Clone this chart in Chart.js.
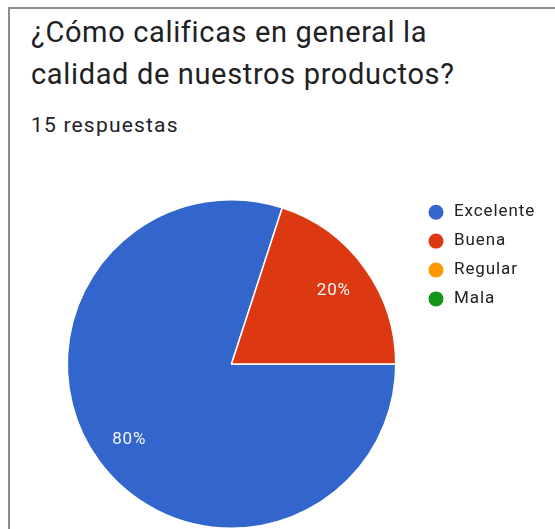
<!DOCTYPE html>
<html>
<head>
<meta charset="utf-8">
<script src="https://cdn.jsdelivr.net/npm/chart.js@4"></script>
<style>
  html, body { margin: 0; padding: 0; background: #fff; }
  body { width: 555px; height: 529px; position: relative; overflow: hidden; font-family: Roboto, "Noto Sans", sans-serif; }
  .frame { position: absolute; left: 8px; top: 7px; width: 600px; height: 600px;
           border-left: 2px solid #8c8c8c; border-top: 2px solid #8c8c8c; box-sizing: border-box; }
  .title { position: absolute; left: 31px; top: 11px; font-size: 29px; line-height: 42px;
           letter-spacing: 0.65px; color: #202124; white-space: nowrap; }
  .sub { position: absolute; left: 31px; top: 113px; font-size: 21px; line-height: 24px;
         letter-spacing: 1.2px; color: #202124; }
  #wrap { position: absolute; left: 0; top: 0; width: 555px; height: 529px; }
</style>
</head>
<body>
<div class="frame"></div>
<div class="title">¿Cómo calificas en general la<br>calidad de nuestros productos?</div>
<div class="sub">15 respuestas</div>
<div id="wrap"><canvas id="c"></canvas></div>
<script>
const categories = ['Excelente', 'Buena', 'Regular', 'Mala'];
const responses = [12, 3, 0, 0];
const sliceColors = ['#3366cc', '#dc3912', '#ff9900', '#109618'];

// Percentage labels inside slices, at ~77% of the radius
const sliceLabels = {
  id: 'sliceLabels',
  afterDatasetsDraw(chart) {
    const { ctx } = chart;
    const meta = chart.getDatasetMeta(0);
    const data = chart.data.datasets[0].data;
    const total = data.reduce((a, b) => a + b, 0);
    ctx.save();
    ctx.font = '17px Roboto, sans-serif';
    ctx.letterSpacing = '0.8px';
    ctx.fillStyle = '#f4f6fb';
    ctx.textAlign = 'center';
    ctx.textBaseline = 'middle';
    meta.data.forEach((arc, i) => {
      if (!data[i]) return;
      const mid = (arc.startAngle + arc.endAngle) / 2;
      const r = arc.outerRadius * 0.77;
      const pct = Math.round(data[i] / total * 100) + '%';
      ctx.fillText(pct, arc.x + Math.cos(mid) * r, arc.y + Math.sin(mid) * r + 1);
    });
    ctx.restore();
  }
};

// Legend on the right with round markers
const sideLegend = {
  id: 'sideLegend',
  afterDraw(chart) {
    const { ctx } = chart;
    const ds = chart.data.datasets[0];
    ctx.save();
    ctx.font = '17px Roboto, sans-serif';
    ctx.letterSpacing = '0.9px';
    ctx.textBaseline = 'alphabetic';
    ctx.textAlign = 'left';
    chart.data.labels.forEach((lab, i) => {
      const y = 212.2 + i * 28.9;
      ctx.beginPath();
      ctx.arc(436, y, 7.5, 0, Math.PI * 2);
      ctx.fillStyle = ds.backgroundColor[i];
      ctx.fill();
      ctx.fillStyle = '#222222';
      ctx.fillText(lab, 454, y + 3.8);
    });
    ctx.restore();
  }
};

new Chart(document.getElementById('c'), {
  type: 'pie',
  data: {
    labels: categories,
    datasets: [{
      data: responses,
      backgroundColor: sliceColors,
      borderColor: '#ffffff',
      borderWidth: 1.5
    }]
  },
  options: {
    responsive: true,
    maintainAspectRatio: false,
    animation: false,
    rotation: 90,
    layout: { padding: { left: 66, top: 199, right: 158, bottom: 0 } },
    plugins: {
      legend: { display: false },
      tooltip: { enabled: false }
    }
  },
  plugins: [sliceLabels, sideLegend]
});
</script>
</body>
</html>
